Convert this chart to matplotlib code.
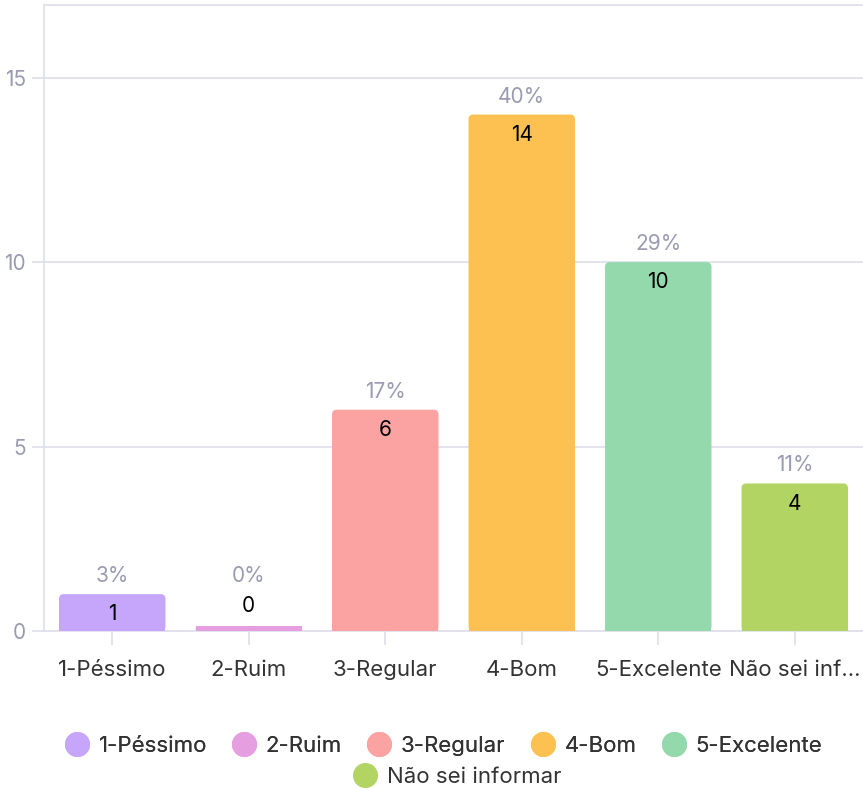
import matplotlib.pyplot as plt
from matplotlib.patches import FancyBboxPatch
from matplotlib.lines import Line2D

# Data
categories = ['1-Péssimo', '2-Ruim', '3-Regular', '4-Bom', '5-Excelente', 'Não sei informar']
tick_labels = ['1-Péssimo', '2-Ruim', '3-Regular', '4-Bom', '5-Excelente', 'Não sei inf…']
counts = [1, 0, 6, 14, 10, 4]
colors = ['#c5a6fb', '#e59ee0', '#fba3a3', '#fdc152', '#94d9ac', '#b1d462']

plt.rcParams['font.family'] = ['Inter', 'DejaVu Sans']

total = sum(counts)
percents = [f"{round(c / total * 100)}%" for c in counts]

fig = plt.figure(figsize=(8.63, 7.9), dpi=100)
ax = fig.add_axes([44 / 863, 1 - 631 / 790, 1 - 44 / 863, 626 / 790])

ax.set_xlim(-0.5, 5.5)
ax.set_ylim(0, 16.97)

# bars (zero bar drawn with a thin minimum height like the original)
shown = [c if c > 0 else 0.13 for c in counts]
bars = ax.bar(range(len(categories)), shown, width=0.78, color=colors)

# round the top corners
px_x = 819 / 6.0
px_y = 626 / 16.97
for b in bars:
    x, y = b.get_x(), b.get_y()
    w, h = b.get_width(), b.get_height()
    b.set_visible(False)
    p = FancyBboxPatch((x, y), w, h,
                       boxstyle="round,pad=0,rounding_size=0.035",
                       mutation_aspect=px_x / px_y,
                       facecolor=b.get_facecolor(), edgecolor='none', zorder=3)
    ax.add_patch(p)
    # flatten bottom corners
    ax.add_patch(plt.Rectangle((x, y), w, min(h, 0.2), facecolor=b.get_facecolor(),
                               edgecolor='none', zorder=3))

for i, (c, s, pct) in enumerate(zip(counts, shown, percents)):
    if c > 0:
        ax.annotate(pct, (i, s), xytext=(0, 13), textcoords='offset points',
                    ha='center', va='center', fontsize=15, color='#9a9ab2', zorder=4)
        ax.annotate(str(c), (i, s), xytext=(0, -14.5), textcoords='offset points',
                    ha='center', va='center', fontsize=15, color='black', zorder=4)
    else:
        ax.annotate(pct, (i, s), xytext=(0, 36), textcoords='offset points',
                    ha='center', va='center', fontsize=15, color='#9a9ab2', zorder=4)
        ax.annotate(str(c), (i, s), xytext=(0, 14.5), textcoords='offset points',
                    ha='center', va='center', fontsize=15, color='black', zorder=4)

ax.set_yticks([0, 5, 10, 15])
ax.set_xticks(range(len(categories)))
ax.set_xticklabels(tick_labels)
ax.grid(axis='y', color='#e0e0ec', linewidth=1.3, zorder=0)
ax.set_axisbelow(True)

for side in ['top', 'left', 'bottom']:
    ax.spines[side].set_color('#e0e0ec')
    ax.spines[side].set_linewidth(1.3)
ax.spines['right'].set_visible(False)

ax.tick_params(axis='y', colors='#e0e0ec', labelcolor='#9a9ab2', labelsize=15,
               length=9, width=1.3, pad=4)
ax.tick_params(axis='x', colors='#e0e0ec', labelcolor='#333333', labelsize=16,
               length=10, width=1.3, pad=11)

handles = [Line2D([], [], marker='o', linestyle='none', markersize=18,
                  markerfacecolor=col, markeredgecolor='none') for col in colors]
leg_kw = dict(loc='center', frameon=False, fontsize=16, handletextpad=0.45,
              columnspacing=1.15, handlelength=1.05, labelcolor='#333333',
              borderpad=0, borderaxespad=0)
leg1 = fig.legend(handles[:5], categories[:5], bbox_to_anchor=(0.514, 1 - 746 / 790),
                  ncol=5, **leg_kw)
fig.add_artist(leg1)
fig.legend(handles[5:], categories[5:], bbox_to_anchor=(0.53, 1 - 777 / 790),
           ncol=1, **leg_kw)

fig.savefig('out.png', dpi=100)
